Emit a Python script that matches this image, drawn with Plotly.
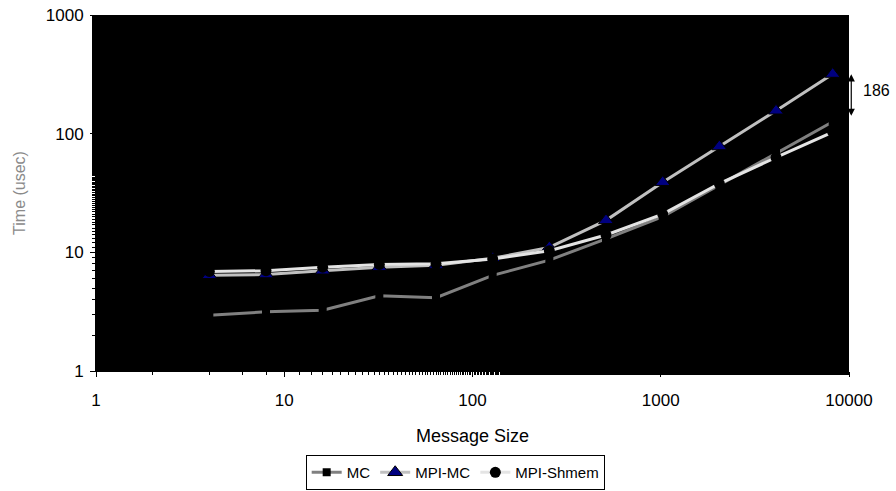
import plotly.graph_objects as go

sizes = [4, 8, 16, 32, 64, 128, 256, 512, 1024, 2048, 4096, 8192]
mc = [2.95, 3.15, 3.25, 4.3, 4.15, 6.4, 8.6, 13.0, 20.0, 37.0, 69.0, 126.0]
mpi_mc = [6.4, 6.5, 7.0, 7.5, 7.8, 8.9, 11.0, 18.6, 39.0, 78.0, 156.0, 318.0]
mpi_shmem = [6.9, 7.0, 7.5, 7.9, 8.0, 8.8, 10.3, 14.0, 21.0, 38.0, 63.0, 103.0]
diff_label = "186"

font = "Liberation Sans, Arial, sans-serif"

fig = go.Figure()
fig.add_trace(go.Scatter(x=sizes, y=mc, name="MC", mode="lines+markers",
                         line=dict(color="#808080", width=3),
                         marker=dict(symbol="square", size=8, color="black")))
fig.add_trace(go.Scatter(x=sizes, y=mpi_mc, name="MPI-MC", mode="lines+markers",
                         line=dict(color="#c0c0c0", width=3),
                         marker=dict(symbol="triangle-up", size=13, color="#000080",
                                     line=dict(color="black", width=1))))
fig.add_trace(go.Scatter(x=sizes, y=mpi_shmem, name="MPI-Shmem", mode="lines+markers",
                         line=dict(color="#e4e4e4", width=3),
                         marker=dict(symbol="circle", size=11, color="black")))

# double-headed arrow showing the gap at the largest size
fig.add_annotation(x=1.003, y=2.15, xref="paper", yref="y",
                   ax=0, ay=-43, axref="pixel", ayref="pixel", showarrow=True,
                   arrowhead=2, arrowside="end+start", arrowsize=1.2, arrowwidth=1.2,
                   arrowcolor="black", text="")
fig.add_annotation(x=1.016, y=2.36, xref="paper", yref="y", text=diff_label,
                   showarrow=False, xanchor="left", yanchor="middle",
                   font=dict(family=font, size=16, color="black"))

axis_common = dict(type="log", showgrid=False, zeroline=False, showline=True,
                   linecolor="black", linewidth=1, ticks="outside", ticklen=5,
                   tickcolor="black", mirror=False, automargin=False,
                   tickfont=dict(family=font, size=17, color="black"))

fig.update_xaxes(range=[0, 4], tickvals=[1, 10, 100, 1000, 10000],
                 ticktext=["1", "10", "100", "1000", "10000"],
                 ticklabelstandoff=9,
                 minor=dict(ticks="outside", ticklen=3, tickcolor="black", showgrid=False),
                 title=dict(text="Message Size", font=dict(family=font, size=18, color="black"),
                            standoff=19),
                 **axis_common)
fig.update_yaxes(range=[0, 3], tickvals=[1, 10, 100, 1000],
                 ticktext=["1", "10", "100", "1000"],
                 ticklabelstandoff=3,
                 minor=dict(ticks="outside", ticklen=3, tickcolor="black", showgrid=False),
                 title=dict(text="Time (usec)", font=dict(family=font, size=16, color="#8a8a8a"),
                            standoff=16),
                 **axis_common)

fig.update_layout(
    width=896, height=491,
    margin=dict(l=96, r=47, t=15, b=120, autoexpand=False),
    plot_bgcolor="black", paper_bgcolor="white",
    font=dict(family=font, size=16, color="black"),
    legend=dict(orientation="h", x=0.477, xanchor="center", y=-0.236, yanchor="top",
                bordercolor="black", borderwidth=1, bgcolor="white",
                font=dict(family=font, size=15, color="black"),
                itemwidth=30, tracegroupgap=0),
    showlegend=True,
)

fig.write_html("out.html", config={"displayModeBar": False},
               post_script="document.body.style.margin='0';document.body.style.overflow='hidden';")
